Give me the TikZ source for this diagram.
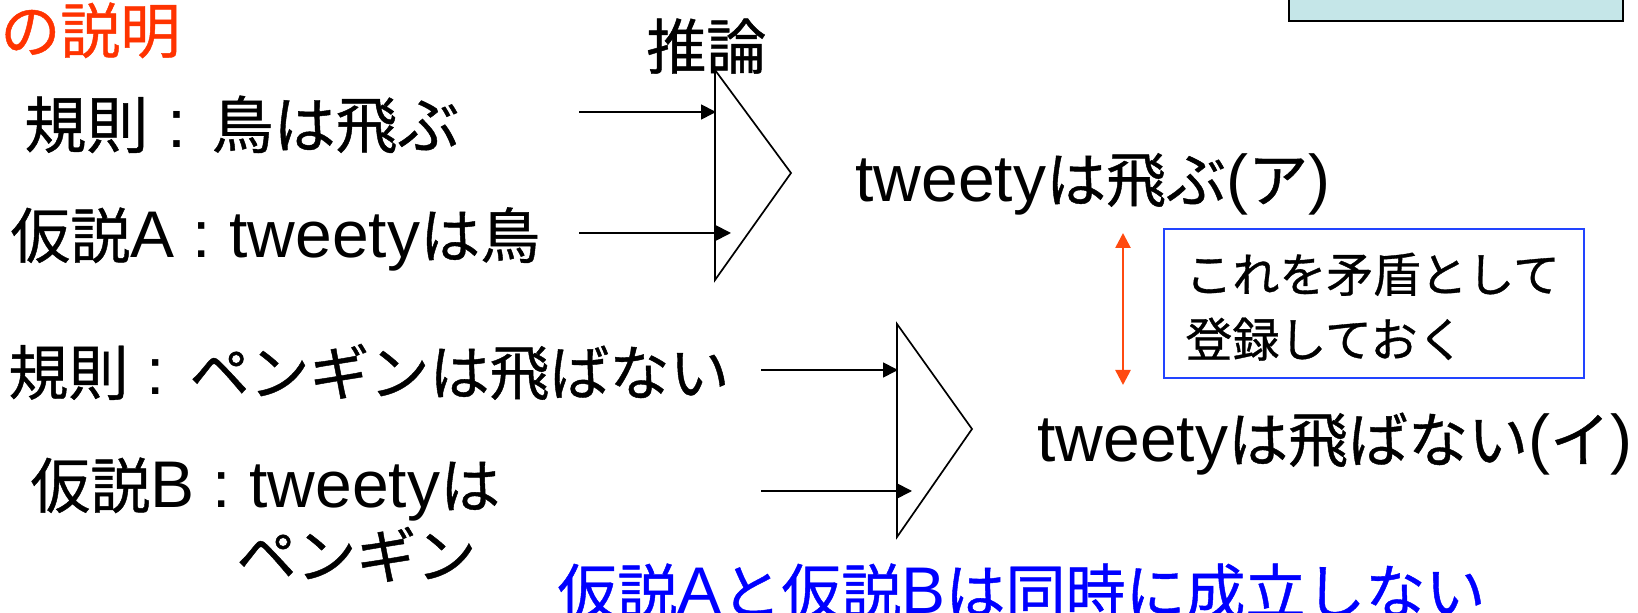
\documentclass[tikz,border=0pt]{standalone}
\usepackage{fontspec}
\setmainfont{Liberation Sans}[Scale=1.1]
\newfontfamily\jp{Noto Sans CJK JP}[FakeBold=0.7]
\usetikzlibrary{arrows.meta}
\definecolor{redor}{HTML}{FF3300}
\definecolor{orarrow}{HTML}{FF4A10}
\definecolor{bluebox}{HTML}{2244FF}
\definecolor{bluetext}{HTML}{0000FF}
\definecolor{cyanfill}{HTML}{C5E6E8}
\begin{document}
\begin{tikzpicture}[x=0.5pt,y=-0.5pt,
  txt/.style={anchor=base west,inner sep=0pt,font=\fontsize{30}{36}\selectfont},
  bigtxt/.style={anchor=base west,inner sep=0pt,font=\fontsize{31}{37}\selectfont},
  smalltxt/.style={anchor=base west,inner sep=0pt,font=\fontsize{23.5}{28}\selectfont},
  conn/.style={-{Triangle[length=7.5pt,width=7.5pt]},line width=0.85pt},
  gate/.style={draw,line width=0.85pt,line join=miter},
  twoway/.style={{Triangle[length=7.5pt,width=7.5pt]}-{Triangle[length=7.5pt,width=7.5pt]},line width=1.3pt,draw=orarrow}]
\useasboundingbox (0,0) rectangle (1638,613);
\clip (0,0) rectangle (1638,613);

% top-right box
\node (topbox) [draw,fill=cyanfill,line width=1pt,minimum width=167pt,minimum height=20.5pt,inner sep=0pt] at (1456,0.5) {};

% texts
\node (title) [txt,text=redor] at (0,53) {\jp の説明};
\node (infer) [txt] at (646,69) {\jp 推論};
\node (ruleA) [bigtxt] at (24,148) {{\jp 規則} : {\jp 鳥は飛ぶ}};
\node (hypA) [txt] at (10,258) {{\jp 仮説}A : tweety{\jp は鳥}};
\node (concA) [txt] at (855,202) {tweety{\jp は飛ぶ}({\jp ア})};
\node (ruleB) [txt] at (8,395) {{\jp 規則} : {\jp ペンギンは飛ばない}};
\node (hypB) [txt] at (30,508) {{\jp 仮説}B : tweety{\jp は}};
\node (hypB2) [txt] at (236,578) {\jp ペンギン};
\node (concB) [txt] at (1037,462) {tweety{\jp は飛ばない}({\jp イ})};
\node (concl) [txt,text=bluetext] at (557,614) {{\jp 仮説}A{\jp と仮説}B{\jp は同時に成立しない}};

% note box
\node (note) [draw=bluebox,line width=1pt,minimum width=210pt,minimum height=74.5pt,inner sep=0pt] at (1374,303.5) {};
\node (note1) [smalltxt] at (1185,292) {\jp これを矛盾として};
\node (note2) [smalltxt] at (1185,357) {\jp 登録しておく};

% gates
\draw[gate] (715,70) -- (715,280) -- (791,173) -- cycle;
\draw[gate] (897,324) -- (897,537) -- (972,429) -- cycle;

% arrow endpoints
\coordinate (a1s) at (579,112);
\coordinate (a1e) at (716,112);
\coordinate (a2s) at (579,233);
\coordinate (a2e) at (731,233);
\coordinate (b1s) at (761,370);
\coordinate (b1e) at (898,370);
\coordinate (b2s) at (761,491);
\coordinate (b2e) at (912,491);
\draw[conn] (a1s) -- (a1e);
\draw[conn] (a2s) -- (a2e);
\draw[conn] (b1s) -- (b1e);
\draw[conn] (b2s) -- (b2e);

% contradiction arrow
\coordinate (cu) at (1123,233);
\coordinate (cd) at (1123,385);
\draw[twoway] (cu) -- (cd);
\end{tikzpicture}
\end{document}
